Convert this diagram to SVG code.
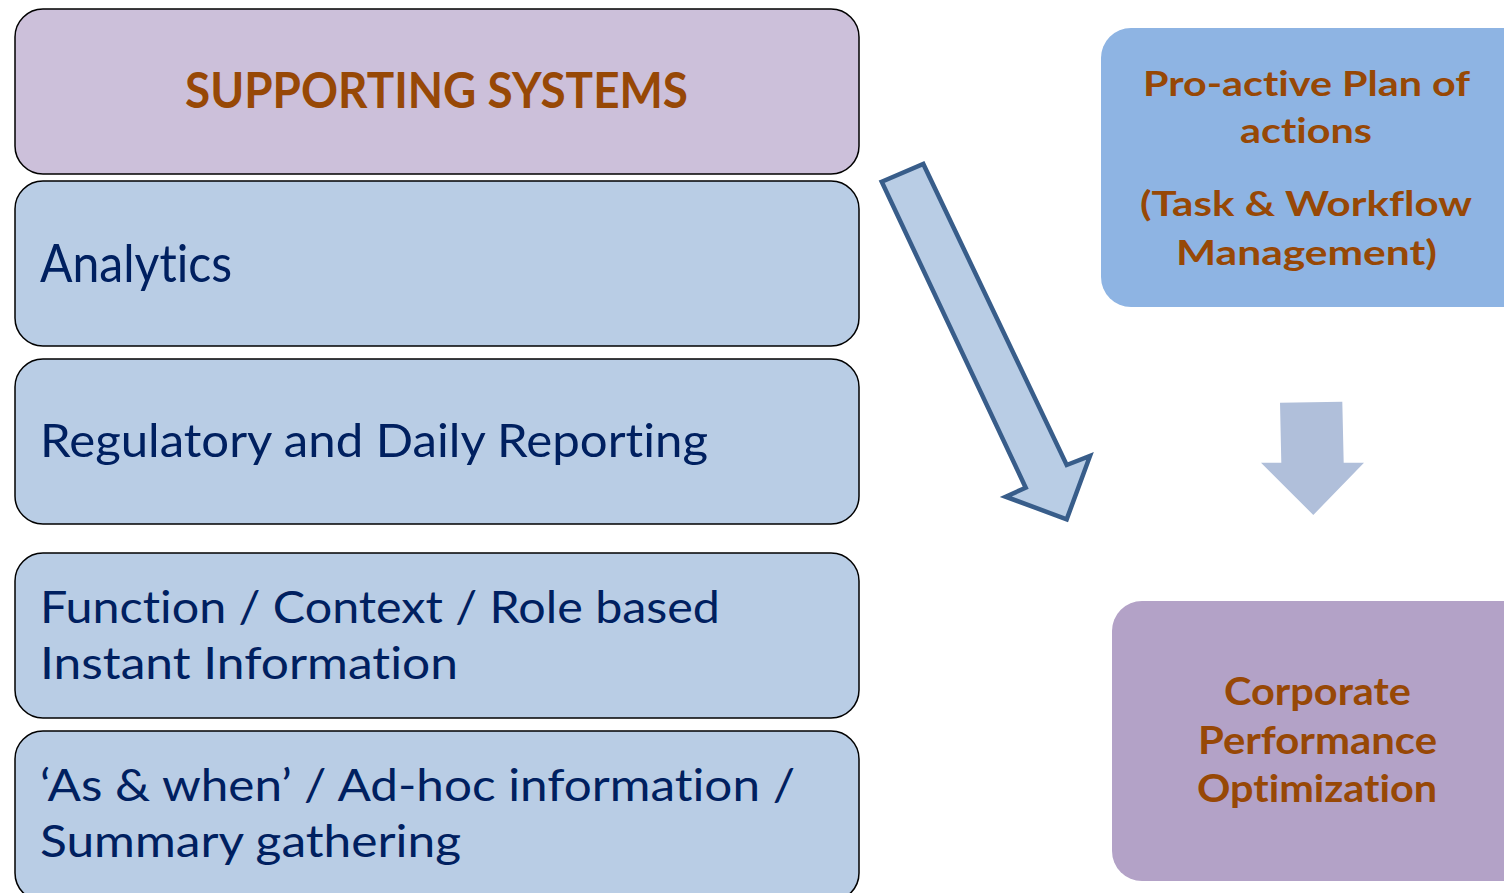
<svg xmlns="http://www.w3.org/2000/svg" width="1504" height="893" viewBox="0 0 1504 893">
<style>
.lb{stroke:#000;stroke-width:1.5;}
.blue{fill:#B9CDE5;}
text{font-variant-ligatures:none;}
.t{font-family:Lato,"Open Sans","Liberation Sans",sans-serif;fill:#002060;}
.h{font-family:Lato,"Open Sans","Liberation Sans",sans-serif;font-weight:bold;fill:#974806;}
</style>
<rect width="1504" height="893" fill="#fff"/>
<g id="supporting-systems">
<rect class="lb" x="15" y="9" width="844" height="165" rx="28" fill="#CCC0DA"/>
<text class="h" x="185" y="108" font-size="49" textLength="503" lengthAdjust="spacingAndGlyphs">SUPPORTING SYSTEMS</text>
</g>
<g id="analytics">
<rect class="lb blue" x="15" y="181" width="844" height="165" rx="28"/>
<text class="t" x="40" y="282" font-size="53" textLength="192" lengthAdjust="spacingAndGlyphs">Analytics</text>
</g>
<g id="regulatory">
<rect class="lb blue" x="15" y="359" width="844" height="165" rx="28"/>
<text class="t" x="40" y="457" font-size="47" textLength="668" lengthAdjust="spacingAndGlyphs">Regulatory and Daily Reporting</text>
</g>
<g id="function">
<rect class="lb blue" x="15" y="553" width="844" height="165" rx="28"/>
<text class="t" x="40" y="623" font-size="45" textLength="680" lengthAdjust="spacingAndGlyphs">Function / Context / Role based</text>
<text class="t" x="40" y="679" font-size="45" textLength="418" lengthAdjust="spacingAndGlyphs">Instant Information</text>
</g>
<g id="adhoc">
<rect class="lb blue" x="15" y="731" width="844" height="170" rx="28"/>
<text class="t" x="40" y="801" font-size="45" textLength="755" lengthAdjust="spacingAndGlyphs">‘As &amp; when’ / Ad-hoc information /</text>
<text class="t" x="40" y="857" font-size="45" textLength="421" lengthAdjust="spacingAndGlyphs">Summary gathering</text>
</g>
<g id="proactive">
<rect x="1101" y="28" width="440" height="279" rx="30" fill="#8EB4E3"/>
<text class="h" x="1306.5" y="96" font-size="34" text-anchor="middle" textLength="327" lengthAdjust="spacingAndGlyphs">Pro-active Plan of</text>
<text class="h" x="1306" y="143" font-size="34" text-anchor="middle" textLength="132" lengthAdjust="spacingAndGlyphs">actions</text>
<text class="h" x="1306" y="216" font-size="34" text-anchor="middle" textLength="332" lengthAdjust="spacingAndGlyphs">(Task &amp; Workflow</text>
<text class="h" x="1306.5" y="265" font-size="34" text-anchor="middle" textLength="261" lengthAdjust="spacingAndGlyphs">Management)</text>
</g>
<g id="corporate">
<rect x="1112" y="601" width="430" height="280" rx="30" fill="#B3A2C7"/>
<text class="h" x="1317.5" y="705" font-size="38" text-anchor="middle" textLength="187" lengthAdjust="spacingAndGlyphs">Corporate</text>
<text class="h" x="1317.5" y="754" font-size="38" text-anchor="middle" textLength="239" lengthAdjust="spacingAndGlyphs">Performance</text>
<text class="h" x="1317" y="802" font-size="38" text-anchor="middle" textLength="240" lengthAdjust="spacingAndGlyphs">Optimization</text>
</g>
<g id="connectors">
<polygon points="881.7,181.7 923.3,164 1066.7,465 1090,456 1066.7,519.3 1005.7,496.7 1025.7,487.7" fill="#B9CDE5" stroke="#385D8A" stroke-width="4.5" stroke-linejoin="miter"/>
<polygon points="1280,402.7 1342.3,401.7 1343.7,462.7 1364,462.7 1313.3,515 1261,462.7 1281.3,462.7" fill="#B0BFDA"/>
</g>
</svg>
